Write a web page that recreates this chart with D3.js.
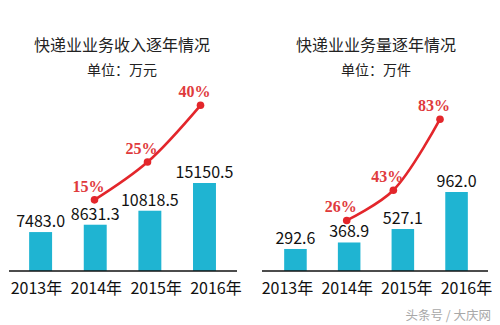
<!DOCTYPE html>
<html><head><meta charset="utf-8">
<script src="https://cdn.jsdelivr.net/npm/d3@7"></script>
<style>html,body{margin:0;padding:0;background:#fff;}svg{display:block;}</style>
</head><body>
<svg id="c" width="500" height="325"></svg>
<script>
const years = ["2013","2014","2015","2016"];
const yearLabels = ["2013年","2014年","2015年","2016年"];
const revenue = [7483.0, 8631.3, 10818.5, 15150.5];
const revenueLabels = ["7483.0","8631.3","10818.5","15150.5"];
const volume = [292.6, 368.9, 527.1, 962.0];
const volumeLabels = ["292.6","368.9","527.1","962.0"];
const growthYears = ["2014","2015","2016"];
const revenueGrowth = [15, 25, 40];
const volumeGrowth = [26, 43, 83];
const titles = ["快递业业务收入逐年情况","快递业业务量逐年情况"];
const subtitles = ["单位：万元","单位：万件"];
const watermark = "头条号 / 大庆网";

const svg = d3.select("#c");
const SANS = "'Noto Sans CJK SC', 'Noto Sans', sans-serif";
const SERIF = "'Liberation Serif', 'DejaVu Serif', serif";
const BAR = "#1fb4d2", RED = "#e3262b", PCT = "#e03a3c";
const baseY = 271;

function panel(cfg) {
  const g = svg.append("g");
  // titles
  g.append("text").attr("x", cfg.cx).attr("y", 51).attr("text-anchor","middle")
    .attr("font-family", SANS).attr("font-size", 16).attr("fill","#222").text(cfg.title);
  g.append("text").attr("x", cfg.cx).attr("y", 75).attr("text-anchor","middle")
    .attr("font-family", SANS).attr("font-size", 14).attr("fill","#222").text(cfg.subtitle);

  const xb = d3.scaleBand().domain(years).range(cfg.barRange).paddingInner(0.58).paddingOuter(0.29);
  const y = d3.scaleLinear().domain(cfg.yDomain).range([baseY, cfg.yTop]);

  g.selectAll("rect.bar").data(cfg.values).join("rect").attr("class","bar")
    .attr("x", (d,i) => xb(years[i])).attr("width", xb.bandwidth())
    .attr("y", d => y(d)).attr("height", d => baseY - y(d)).attr("fill", BAR);

  g.selectAll("text.val").data(cfg.values).join("text").attr("class","val")
    .attr("x", (d,i) => xb(years[i]) + xb.bandwidth()/2).attr("y", d => y(d) - 5)
    .attr("text-anchor","middle").attr("font-family", SANS).attr("font-size", 16).attr("fill","#111")
    .text((d,i) => cfg.valueLabels[i]);

  // baseline
  g.append("line").attr("x1", cfg.axis[0]).attr("x2", cfg.axis[1]).attr("y1", baseY).attr("y2", baseY)
    .attr("stroke","#111").attr("stroke-width",1.6);

  // axis labels
  const xl = d3.scalePoint().domain(years).range(cfg.labelRange);
  const ax = g.append("g").attr("transform", `translate(0,${baseY})`)
    .call(d3.axisBottom(xl).tickSize(0).tickPadding(0).tickFormat((d,i) => yearLabels[i]));
  ax.select(".domain").remove();
  ax.selectAll("text").attr("font-family", SANS).attr("font-size", 16).attr("fill","#111")
    .attr("dy", null).attr("y", 23);

  // growth line
  const xg = d3.scalePoint().domain(growthYears).range(cfg.lineX);
  const yg = d3.scaleLinear().domain(cfg.pctDomain).range(cfg.pctRange);
  const pts = cfg.growth.map((d,i) => [xg(growthYears[i]), yg(d)]);
  g.append("path").attr("d", d3.line().curve(d3.curveCatmullRom.alpha(0.5))(pts))
    .attr("fill","none").attr("stroke", RED).attr("stroke-width", 2.6);
  g.selectAll("circle").data(pts).join("circle")
    .attr("cx", d => d[0]).attr("cy", d => d[1]).attr("r", 3.8).attr("fill", RED);
  g.selectAll("text.pct").data(cfg.growth).join("text").attr("class","pct")
    .attr("x", (d,i) => pts[i][0] - 6).attr("y", (d,i) => pts[i][1] - 8)
    .attr("text-anchor","middle").attr("font-family", SERIF).attr("font-weight","bold")
    .attr("font-size", 16).attr("fill", PCT).text(d => d + "%");
}

panel({cx:122, title:titles[0], subtitle:subtitles[0], values:revenue, valueLabels:revenueLabels,
  barRange:[13.3, 231.8], yDomain:[1400, 15150.5], yTop:183, axis:[9,237], labelRange:[36,215.5],
  growth:revenueGrowth, lineX:[94.5,200.5], pctDomain:[0,40], pctRange:[256.6,105.3]});
panel({cx:376, title:titles[1], subtitle:subtitles[1], values:volume, valueLabels:volumeLabels,
  barRange:[268.6, 483.4], yDomain:[34, 962], yTop:192, axis:[262,488], labelRange:[287,466],
  growth:volumeGrowth, lineX:[346.7,440], pctDomain:[0,83], pctRange:[266.6,119.2]});

svg.append("text").attr("x", 491).attr("y", 320).attr("text-anchor","end")
  .attr("font-family", SANS).attr("font-size", 12.5).attr("fill","#a8a8a8").text(watermark);
</script>
</body></html>
